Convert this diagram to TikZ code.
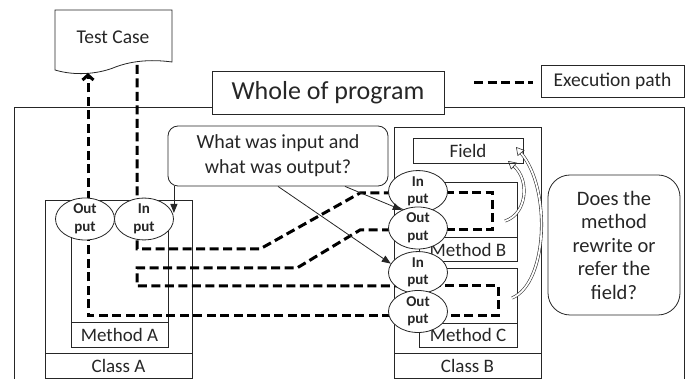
\documentclass[tikz,border=0pt]{standalone}
\usepackage{fontspec}
\setmainfont{Carlito}
\usetikzlibrary{shapes.geometric,arrows.meta,calc}
\begin{document}
\begin{tikzpicture}[x=1pt,y=-1pt,
  thin/.style={draw=black!85, line width=0.8pt},
  lbl/.style={font=\fontsize{19}{21}\selectfont, inner sep=0pt, text=black!85},
  exec/.style={line width=3pt, dash pattern=on 9pt off 4.5pt},
  io/.style={ellipse, draw=black!85, fill=white, line width=0.8pt, minimum width=59pt, minimum height=35pt, inner sep=0pt, align=center, font=\bfseries\fontsize{15}{17.5}\selectfont, text=black!85},
  ptr/.style={draw=black!85, line width=0.8pt, -{Triangle[length=9pt,width=7pt]}},
  blockarr/.style={draw=black!80, double=white, double distance=1.8pt, line width=0.6pt, -{Triangle[open,length=8pt,width=9pt]}},
]
\useasboundingbox (0,0) rectangle (689,379);
\clip (0,0) rectangle (689,379);

% whole program frame
\draw[thin] (14,385) -- (14,107) -- (684,107) -- (684,385);
\node[thin, fill=white, minimum width=232pt, minimum height=43pt, inner sep=0pt, font=\fontsize{26}{28}\selectfont, text=black!85] (wp) at (328,92.5) {Whole of program};

% legend
\node[thin, minimum width=143pt, minimum height=32pt, inner sep=0pt, lbl, font=\fontsize{19.5}{21}\selectfont] (ep) at (612.5,81) {Execution path};
\coordinate (leg) at (474,83);
\draw[exec] (leg) -- ([xshift=-8pt]ep.west |- leg);

% test case document
\draw[thin, fill=white] (55,70) -- (55,10) -- (172,10) -- (172,62)
  .. controls (150,59) and (130,61) .. (113,68)
  .. controls (97,74) and (75,76) .. (55,70) -- cycle;
\node[lbl, font=\fontsize{19.5}{21}\selectfont] (tc) at (113,37) {Test Case};
\coordinate (tcin) at (137,65);
\coordinate (tcout) at (88,73);

% class A
\draw[thin] (45,200) rectangle (192,378);
\draw[thin] (45,353) -- (192,353);
\node[lbl] (ca) at (118.5,366) {Class A};
\draw[thin] (71,219) rectangle (168,347);
\draw[thin] (71,322) -- (168,322);
\node[lbl] (ma) at (119.5,335) {Method A};

% class B
\draw[thin] (394,127) rectangle (541,378);
\draw[thin] (394,353) -- (541,353);
\node[lbl] (cb) at (467.5,366) {Class B};
\draw[thin] (413,138) rectangle (523,163);
\node[lbl] (fd) at (468,151) {Field};
\draw[thin] (419,182) rectangle (517,261);
\draw[thin] (419,237) -- (517,237);
\node[lbl] (mb) at (468,249.5) {Method B};
\draw[thin] (419,268) rectangle (517,347);
\draw[thin] (419,323) -- (517,323);
\node[lbl] (mc) at (468,335) {Method C};

% ellipse positions
\coordinate (oaP) at (85,219);
\coordinate (iaP) at (144,219);
\coordinate (ibP) at (418,191.5);
\coordinate (obP) at (418,228);
\coordinate (icP) at (418,272.5);
\coordinate (ocP) at (418,311.5);

% execution path
\draw[exec] (tcin) -- (137,249) -- (260,249) -- (360,193) -- (ibP |- 0,193);
\draw[exec] (ibP |- 0,193) -- (492,193) -- (492,230) -- (obP |- 0,230);
\draw[exec] (obP |- 0,230) -- (360,230) -- (297,268) -- (137,268) -- (137,286) -- (icP |- 0,286);
\draw[exec] (icP |- 0,286) -- (498,286) -- (498,316) -- (ocP |- 0,316);
\draw[exec, -{Straight Barb[length=5pt,width=11pt]}] (ocP |- 0,316) -- (88,316) -- (tcout);

% in / out ellipses
\node[io] (oa) at (oaP) {Out\\put};
\node[io] (ia) at (iaP) {In\\put};
\node[io] (ib) at (ibP) {In\\put};
\node[io] (ob) at (obP) {Out\\put};
\node[io] (ic) at (icP) {In\\put};
\node[io] (oc) at (ocP) {Out\\put};

% question callout
\node[thin, fill=white, rounded corners=10pt, minimum width=220pt, minimum height=60pt, inner sep=0pt, align=center, lbl, font=\fontsize{20}{25}\selectfont] (q) at (278,156) {What was input and\\what was output?};
\draw[ptr] (q.south -| ia.east) -- (ia.east |- 0,213);
\draw[ptr] (q.south) -- (ic.162);
\draw[ptr] ($(q.south)+(67,0)$) -- (ob.132);

% field access arrows
\coordinate (t1) at (505,221);
\coordinate (h1) at (508,161);
\coordinate (t2) at (512,298);
\coordinate (h2) at (516,147);
\draw[blockarr] (t1) .. controls (527,214) and (530,180) .. (h1);
\draw[blockarr] (t2) .. controls (547,284) and (552,190) .. (h2);

% field question
\node[thin, rounded corners=22pt, minimum width=132pt, minimum height=140pt, inner sep=0pt, align=center, lbl, font=\fontsize{20.5}{23.5}\selectfont] (dm) at (614,245) {Does the\\method\\rewrite or\\refer the\\field?};
\end{tikzpicture}
\end{document}
